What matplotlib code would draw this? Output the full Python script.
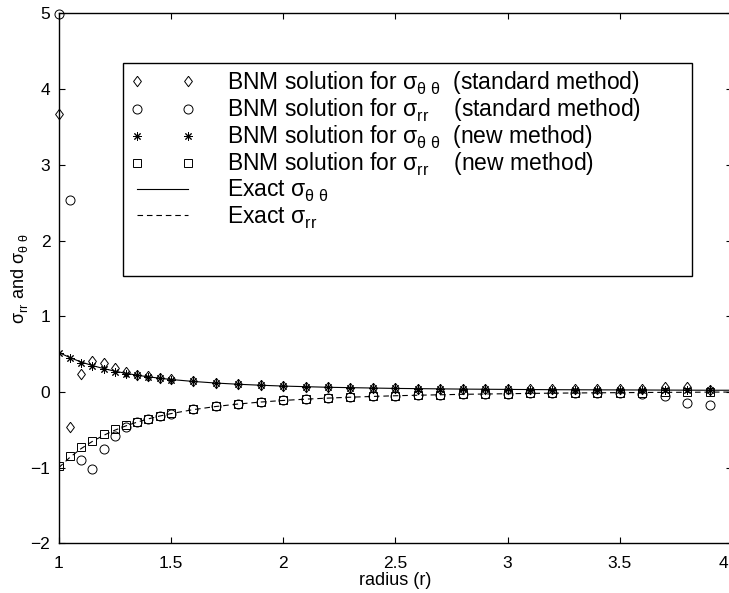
import matplotlib
matplotlib.use("Agg")
import matplotlib.pyplot as plt
from matplotlib.patches import Rectangle
from matplotlib.transforms import ScaledTranslation

plt.rcParams['font.family'] = ['Liberation Sans', 'DejaVu Sans']
plt.rcParams['mathtext.fontset'] = 'custom'
plt.rcParams['mathtext.rm'] = 'Liberation Sans'
plt.rcParams['mathtext.it'] = 'Liberation Sans'
plt.rcParams['mathtext.default'] = 'regular'

# MATLAB-like low subscripts
try:
    from matplotlib import _mathtext
    _mathtext.FontConstantsBase.sub1 = 0.4
    _mathtext.FontConstantsBase.subdrop = 0.4
except Exception:
    pass

# radius values of the BNM nodes
r = [1.0, 1.05, 1.1, 1.15, 1.2, 1.25, 1.3, 1.35, 1.4, 1.45, 1.5,
     1.6, 1.7, 1.8, 1.9, 2.0, 2.1, 2.2, 2.3, 2.4, 2.5, 2.6, 2.7, 2.8, 2.9,
     3.0, 3.1, 3.2, 3.3, 3.4, 3.5, 3.6, 3.7, 3.8, 3.9]

# standard method
std_tt = [3.67, -0.46, 0.24, 0.41, 0.38, 0.32, 0.27, 0.23, 0.21, 0.19, 0.17,
          0.14, 0.12, 0.105, 0.09, 0.08, 0.072, 0.064, 0.058, 0.054, 0.05, 0.046,
          0.043, 0.04, 0.038, 0.036, 0.035, 0.034, 0.034, 0.035, 0.037, 0.045,
          0.07, 0.065, 0.03]
std_rr = [4.99, 2.53, -0.90, -1.02, -0.75, -0.58, -0.46, -0.40, -0.36, -0.32, -0.285,
          -0.23, -0.19, -0.16, -0.13, -0.11, -0.095, -0.08, -0.068, -0.058, -0.05,
          -0.042, -0.036, -0.03, -0.026, -0.022, -0.019, -0.017, -0.015, -0.015,
          -0.017, -0.025, -0.05, -0.15, -0.17]

# new method
new_tt = [0.51, 0.45, 0.39, 0.34, 0.30, 0.27, 0.24, 0.22, 0.20, 0.18, 0.165,
          0.14, 0.12, 0.10, 0.09, 0.08, 0.07, 0.065, 0.058, 0.053, 0.049, 0.045,
          0.042, 0.04, 0.037, 0.035, 0.033, 0.031, 0.03, 0.029, 0.028, 0.027,
          0.026, 0.025, 0.024]
new_rr = [-0.98, -0.84, -0.73, -0.64, -0.56, -0.49, -0.44, -0.39, -0.35, -0.31, -0.28,
          -0.23, -0.19, -0.16, -0.13, -0.11, -0.095, -0.08, -0.068, -0.058, -0.05,
          -0.042, -0.036, -0.03, -0.026, -0.022, -0.018, -0.015, -0.012, -0.01,
          -0.008, -0.006, -0.004, -0.003, -0.001]

# exact solution
r_exact = [1.0, 1.05, 1.1, 1.15, 1.2, 1.25, 1.3, 1.35, 1.4, 1.45, 1.5,
           1.6, 1.7, 1.8, 1.9, 2.0, 2.1, 2.2, 2.3, 2.4, 2.5, 2.6, 2.7, 2.8, 2.9,
           3.0, 3.1, 3.2, 3.3, 3.4, 3.5, 3.6, 3.7, 3.8, 3.9, 4.0]
exact_tt = [0.524, 0.455, 0.397, 0.350, 0.310, 0.276, 0.247, 0.222, 0.201, 0.183, 0.166,
            0.140, 0.119, 0.103, 0.090, 0.079, 0.071, 0.063, 0.058, 0.053, 0.048, 0.045,
            0.042, 0.039, 0.037, 0.035, 0.033, 0.031, 0.030, 0.029, 0.028, 0.027,
            0.026, 0.025, 0.024, 0.024]
exact_rr = [-1.0, -0.862, -0.747, -0.652, -0.572, -0.504, -0.446, -0.397, -0.354, -0.317,
            -0.285, -0.232, -0.191, -0.158, -0.132, -0.111, -0.094, -0.080, -0.068,
            -0.058, -0.049, -0.042, -0.036, -0.030, -0.026, -0.022, -0.018, -0.015,
            -0.012, -0.010, -0.008, -0.006, -0.004, -0.003, -0.001, 0.0]

xticks = [1, 1.5, 2, 2.5, 3, 3.5, 4]
xticklabels = ['1', '1.5', '2', '2.5', '3', '3.5', '4']
yticks = [-2, -1, 0, 1, 2, 3, 4, 5]

diamond = [(0, 1), (0.75, 0), (0, -1), (-0.75, 0), (0, 1)]
asterisk = (8, 2, 0)

fig = plt.figure(figsize=(7.29, 5.93), dpi=100)
ax = fig.add_axes([0.0805, 0.0835, 0.9236, 0.8938])

mk = dict(linestyle='none', color='black', markerfacecolor='none', markeredgewidth=0.7)
ax.plot(r, std_tt, marker=diamond, markersize=7.5, clip_on=False,
        label=r'BNM solution for $\sigma_{\theta\ \theta}$  (standard method)', **mk)
ax.plot(r, std_rr, marker='o', markersize=6.5, clip_on=False,
        label=r'BNM solution for $\sigma_{rr}$    (standard method)', **mk)
ax.plot(r, new_tt, marker=asterisk, markersize=6,
        label=r'BNM solution for $\sigma_{\theta\ \theta}$  (new method)', **mk)
ax.plot(r, new_rr, marker='s', markersize=5.3,
        label=r'BNM solution for $\sigma_{rr}$    (new method)', **mk)
ax.plot(r_exact, exact_tt, '-', color='black', linewidth=0.8,
        label=r'Exact $\sigma_{\theta\ \theta}$')
ax.plot(r_exact, exact_rr, '--', color='black', linewidth=0.8, dashes=(5, 3.5),
        label=r'Exact $\sigma_{rr}$')

ax.set_xlim(1, 4)
ax.set_ylim(-2, 5)
ax.set_xticks(xticks)
ax.set_xticklabels(xticklabels)
ax.set_yticks(yticks)
ax.tick_params(direction='in', length=4, width=0.8, labelsize=12.5,
               top=True, right=True)
ax.tick_params(axis='x', pad=9)
ax.tick_params(axis='y', pad=6)
# the x=4 tick sits just past the right edge; keep its label inside the picture
last = ax.xaxis.get_major_ticks()[-1].label1
last.set_horizontalalignment('right')
last.set_transform(last.get_transform() + ScaledTranslation(-4 / 100, 0, fig.dpi_scale_trans))
for s in ax.spines.values():
    s.set_linewidth(1.0)

ax.set_xlabel('radius (r)', fontsize=13, labelpad=1)
ax.set_ylabel(r'$\sigma_{rr}$ and $\sigma_{\theta\ \theta}$', fontsize=13, labelpad=0)

leg = ax.legend(loc='upper left', bbox_to_anchor=(0.099, 0.903), frameon=False,
                numpoints=2, fontsize=16.5, handlelength=2.82, handletextpad=1.4,
                labelspacing=0.0, borderaxespad=0, borderpad=0.2)
ax.add_patch(Rectangle((0.0955, 0.505), 0.8445, 0.402, transform=ax.transAxes,
                       facecolor='white', edgecolor='black', linewidth=1.0, zorder=4))
leg.set_zorder(5)

fig.savefig('out.png', dpi=100)
